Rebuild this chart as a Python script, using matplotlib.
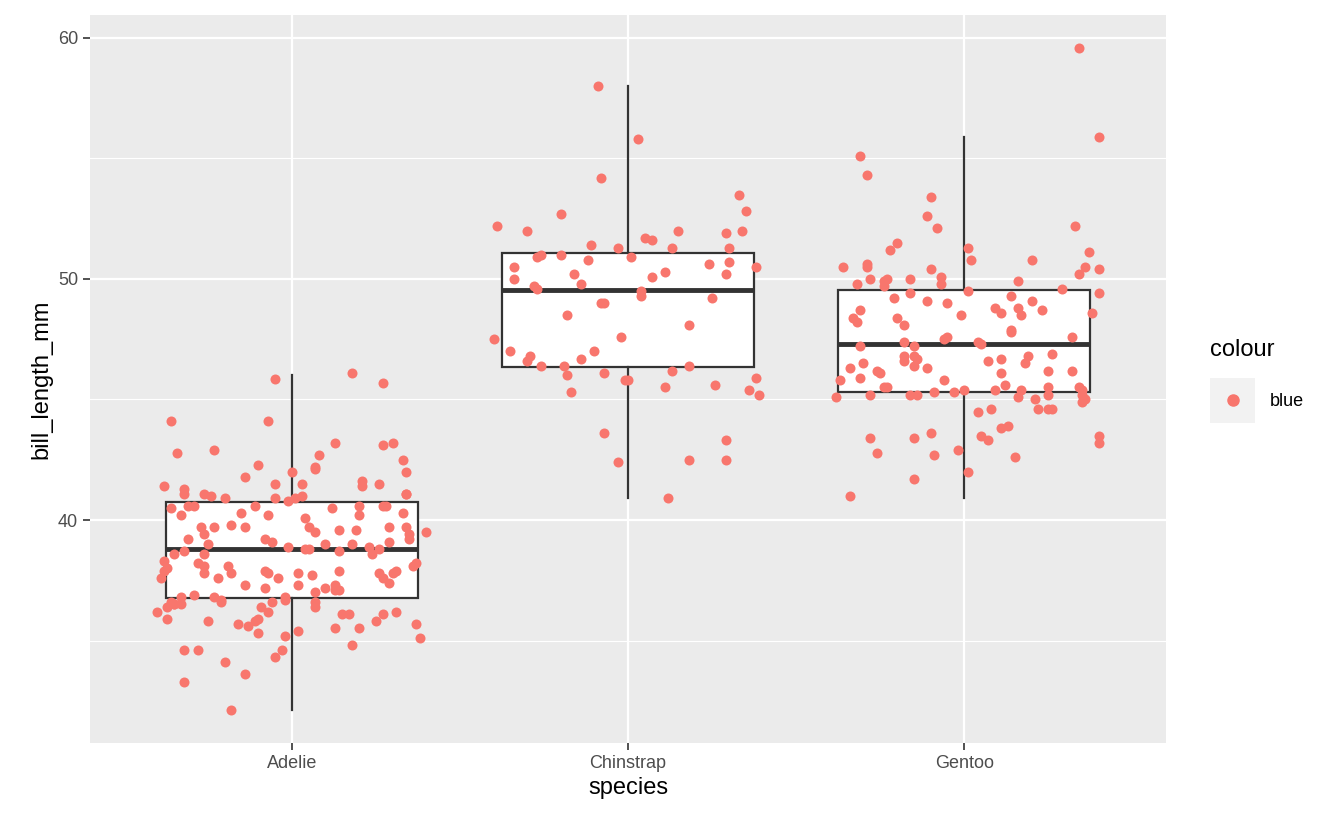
import matplotlib
matplotlib.use("Agg")
import matplotlib.pyplot as plt
import numpy as np
from matplotlib.patches import Rectangle

plt.rcParams['font.family'] = ['Liberation Sans', 'DejaVu Sans']

species = ["Adelie", "Chinstrap", "Gentoo"]

adelie_y = [45.85,46.1,45.7,44.1,44.1,42.9,42.8,43.2,43.1,43.2,42.7,42.5,42.0,42.2,42.1,42.0,41.8,42.3,41.6,41.4,41.5,41.4,41.3,41.1,41.5,41.5,41.1,41.0,40.9,40.9,41.0,40.9,40.8,41.1,41.1,40.6,40.6,40.6,40.6,40.6,40.6,40.5,40.5,40.2,40.3,40.2,40.1,40.2,40.3,39.8,39.7,39.7,39.4,39.7,39.7,39.5,39.6,39.6,39.7,39.7,39.5,39.4,39.2,39.2,39.0,39.2,39.1,38.9,39.0,39.0,38.9,39.1,38.7,38.6,38.6,38.8,38.8,38.7,38.6,38.8,38.3,38.2,38.0,38.1,38.1,37.8,37.8,37.7,37.8,37.9,37.6,37.8,37.8,37.9,37.8,38.2,38.1,37.9,37.6,37.6,37.9,37.4,37.6,37.3,37.3,37.2,37.3,37.1,37.1,37.0,37.2,36.9,36.8,36.8,36.8,36.7,36.7,36.6,36.6,36.5,36.6,36.6,36.4,36.1,36.2,36.2,36.4,36.5,36.2,36.5,36.4,36.1,36.1,35.9,35.7,35.8,35.9,35.8,35.8,35.7,35.6,35.5,35.5,35.3,35.2,35.4,35.1,34.8,34.3,34.6,34.6,34.1,33.6,33.3,32.1,34.6]
adelie_jit = [-0.05,0.18,0.27,-0.07,-0.36,-0.23,-0.34,0.13,0.27,0.30,0.08,0.33,0.00,0.07,0.07,0.34,-0.14,-0.10,0.21,0.21,0.26,-0.38,-0.32,-0.32,-0.05,0.03,-0.26,-0.24,-0.20,-0.05,0.03,0.01,-0.01,0.34,0.34,-0.31,-0.29,-0.11,0.20,0.27,0.28,-0.36,0.12,-0.33,-0.15,-0.07,0.04,0.20,0.33,-0.18,-0.23,-0.27,-0.26,-0.14,0.05,0.07,0.14,0.19,0.29,0.34,0.40,0.35,0.35,-0.31,-0.25,-0.08,-0.06,-0.01,0.10,0.18,0.23,0.29,-0.32,-0.35,-0.26,0.04,0.05,0.14,0.24,0.26,-0.38,-0.28,-0.37,-0.26,-0.19,-0.18,-0.26,0.06,0.02,-0.08,-0.04,-0.07,0.26,0.31,0.30,0.37,0.36,-0.38,-0.39,-0.22,0.14,0.29,0.27,-0.14,0.02,0.10,0.13,0.13,0.14,0.07,-0.08,-0.29,-0.23,-0.33,-0.02,-0.02,-0.21,-0.21,-0.36,-0.33,-0.06,0.07,0.07,0.27,0.31,-0.07,-0.37,-0.35,-0.40,-0.35,-0.09,0.15,0.17,-0.10,-0.16,-0.11,-0.37,-0.25,0.25,0.37,-0.13,0.20,0.13,-0.10,-0.02,0.02,0.38,0.18,-0.05,-0.32,-0.28,-0.20,-0.14,-0.32,-0.18,-0.03]

chin_y = [58.0,55.8,54.2,53.5,52.8,52.7,52.2,52.0,52.0,52.0,51.9,51.7,51.6,51.4,51.3,51.3,51.3,51.0,51.0,50.9,50.9,50.8,50.6,50.7,50.5,50.5,50.3,50.2,50.2,50.0,50.1,49.8,49.7,49.6,49.5,49.3,49.2,49.0,49.0,48.5,48.1,47.5,47.6,47.0,47.0,46.8,46.6,46.7,46.4,46.4,46.4,46.2,46.1,46.0,45.9,45.8,45.8,45.6,45.5,45.4,45.2,45.3,43.6,43.3,42.4,42.5,42.5,40.9]
chin_jit = [-0.09,0.03,-0.08,0.33,0.35,-0.20,-0.39,-0.30,0.34,0.15,0.29,0.05,0.07,-0.11,-0.03,0.13,0.30,-0.26,-0.20,0.01,-0.27,-0.12,0.24,0.30,-0.34,0.38,0.11,-0.16,0.29,-0.34,0.07,-0.14,-0.28,-0.27,0.04,0.04,0.25,-0.07,-0.08,-0.18,0.18,-0.40,-0.02,-0.35,-0.10,-0.29,-0.30,-0.14,-0.26,-0.19,0.18,0.13,-0.07,-0.18,0.38,-0.01,0.00,0.26,0.11,0.36,0.39,-0.17,-0.07,0.29,-0.03,0.18,0.29,0.12]

gentoo_y = [59.6,55.9,55.1,54.3,53.4,52.6,52.1,52.2,51.5,51.2,51.1,51.3,50.8,50.8,50.6,50.5,50.5,50.5,50.4,50.4,50.2,50.1,50.0,50.0,50.0,49.9,49.9,49.8,49.7,49.8,49.6,49.4,49.4,49.5,49.3,49.2,49.1,49.0,49.1,48.7,48.8,48.8,48.6,48.7,48.5,48.4,48.4,48.5,48.2,48.1,47.9,47.8,48.6,47.6,47.6,47.5,47.4,47.4,47.3,47.2,47.2,46.9,46.8,46.8,46.8,46.7,46.6,46.7,46.5,46.5,46.6,46.4,46.3,46.3,46.2,46.1,46.1,46.2,46.2,45.9,45.8,45.8,45.6,45.5,45.5,45.5,45.5,45.4,45.4,45.4,45.3,45.3,45.4,45.2,45.2,45.2,45.1,45.2,45.0,44.9,45.2,45.1,45.0,44.6,44.5,44.6,44.6,44.6,43.9,43.8,43.6,43.4,43.4,43.5,43.3,43.5,43.2,42.8,42.9,42.7,42.6,41.7,42.0,41.0]
gentoo_jit = [0.34,0.40,-0.31,-0.29,-0.10,-0.11,-0.08,0.33,-0.20,-0.22,0.37,0.01,0.02,0.20,-0.29,-0.36,-0.29,0.36,0.40,-0.10,0.34,-0.07,-0.28,-0.23,-0.16,-0.24,0.16,-0.32,-0.24,-0.07,0.29,0.40,-0.16,0.01,0.14,-0.21,0.20,-0.05,-0.11,-0.31,0.16,0.09,0.11,0.23,0.17,-0.33,-0.20,-0.01,-0.32,-0.18,0.14,0.14,0.38,0.32,-0.05,-0.06,0.04,-0.18,0.05,-0.31,-0.15,0.26,0.19,-0.15,-0.18,-0.14,-0.18,0.11,0.18,-0.30,0.07,-0.15,-0.11,-0.34,-0.26,-0.25,0.11,0.25,0.32,-0.31,-0.37,-0.06,0.12,0.34,0.25,-0.24,-0.23,0.17,0.35,0.09,-0.09,-0.03,0.00,-0.16,-0.28,-0.14,-0.38,0.35,0.36,0.35,0.25,0.16,0.21,0.25,0.04,0.08,0.22,0.26,0.13,0.11,-0.10,-0.28,-0.15,0.05,0.07,0.40,0.40,-0.26,-0.02,-0.09,0.15,-0.15,0.01,-0.34]

box_lo = [32.1, 40.9, 40.9]
box_q1 = [36.75, 46.35, 45.3]
box_med = [38.8, 49.55, 47.3]
box_q3 = [40.75, 51.08, 49.55]
box_hi = [46.0, 58.0, 55.9]

pt_color = "#F8766D"
fig = plt.figure(figsize=(13.44, 8.3), dpi=100)
ax = fig.add_axes([90/1344, 1-743/830, (1166-90)/1344, (743-15)/830])
ax.set_facecolor("#EBEBEB")
for s in ax.spines.values():
    s.set_visible(False)
ax.set_xlim(0.40, 3.60)
ax.set_ylim(30.75, 60.95)
ax.set_yticks([40, 50, 60])
ax.set_yticks([35, 45, 55], minor=True)
ax.grid(True, which="major", color="white", lw=1.6, zorder=0)
ax.grid(True, which="minor", axis="y", color="white", lw=0.8, zorder=0)
ax.set_axisbelow(True)
ax.tick_params(which="major", colors="#333333", length=5, width=1.2, labelsize=13, labelcolor="#4D4D4D")
ax.tick_params(which="minor", length=0)

stats = [dict(whislo=box_lo[i], q1=box_q1[i], med=box_med[i], q3=box_q3[i], whishi=box_hi[i], fliers=[]) for i in range(3)]
ax.bxp(stats, positions=[1, 2, 3], widths=0.75, patch_artist=True, showcaps=False,
       boxprops=dict(facecolor="white", edgecolor="#333333", lw=1.6),
       whiskerprops=dict(color="#333333", lw=1.6),
       medianprops=dict(color="#333333", lw=3.5), zorder=2)
ax.set_xticks([1, 2, 3])
ax.set_xticklabels(species)

for i, (ys, js) in enumerate([(adelie_y, adelie_jit), (chin_y, chin_jit), (gentoo_y, gentoo_jit)]):
    ax.scatter(np.array(js) + i + 1, ys, s=52, color=pt_color, zorder=3, linewidths=0)

ax.set_xlabel("species", fontsize=17)
ax.set_ylabel("bill_length_mm", fontsize=17)

fig.text(1210/1344, 1-350/830, "colour", fontsize=17, va="center", ha="left")
fig.patches.append(Rectangle((1210/1344, 1-423/830), 45/1344, 45/830, transform=fig.transFigure, facecolor="#F2F2F2", edgecolor="none"))
fig.add_artist(plt.Line2D([1233/1344], [1-400/830], marker="o", color=pt_color, markersize=8, transform=fig.transFigure, lw=0))
fig.text(1270/1344, 1-401/830, "blue", fontsize=13, va="center", ha="left")

fig.savefig("out.png", dpi=100)
